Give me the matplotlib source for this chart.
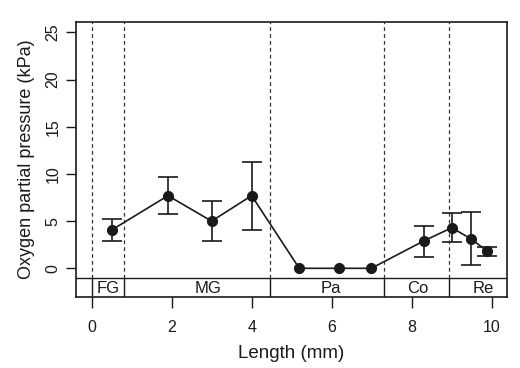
import matplotlib
matplotlib.use("Agg")
import matplotlib.pyplot as plt

# Measured positions along gut (mm) and O2 partial pressure (kPa)
length_mm = [0.52, 1.91, 3.0, 4.0, 5.19, 6.19, 6.99, 8.3, 9.0, 9.49, 9.89]
pressure = [4.1, 7.7, 5.0, 7.7, 0.0, 0.0, 0.0, 2.9, 4.3, 3.1, 1.8]
err_low = [2.9, 5.75, 2.9, 4.1, 0.0, 0.0, 0.0, 1.2, 2.75, 0.35, 1.3]
err_high = [5.2, 9.7, 7.15, 11.25, 0.0, 0.0, 0.0, 4.5, 5.85, 5.95, 2.3]

# Compartment boundaries and labels
boundaries = [0.0, 0.82, 4.47, 7.31, 8.93]
segment_labels = ["FG", "MG", "Pa", "Co", "Re"]
label_pos = [0.42, 2.9, 5.98, 8.14, 9.79]

plt.rcParams["font.family"] = ["Liberation Sans", "DejaVu Sans"]
ink = "#1a1a1a"

fig = plt.figure(figsize=(5.2, 3.68), dpi=100)
ax = fig.add_axes([0.146, 0.194, 0.829, 0.746])

lower = [p - lo for p, lo in zip(pressure, err_low)]
upper = [hi - p for p, hi in zip(pressure, err_high)]
has_err = [hi > 0 for hi in err_high]
ex = [x for x, h in zip(length_mm, has_err) if h]
ey = [y for y, h in zip(pressure, has_err) if h]
el = [v for v, h in zip(lower, has_err) if h]
eu = [v for v, h in zip(upper, has_err) if h]
ax.errorbar(ex, ey, yerr=[el, eu], fmt="none", ecolor=ink, elinewidth=1.2,
            capsize=7.5, capthick=1.2, zorder=3)
ax.plot(length_mm, pressure, "-o", color=ink, lw=1.2, markersize=7, zorder=4)

ymin, ymax = -3.0, 26.1
strip_top = -1.0
for b in boundaries:
    ax.plot([b, b], [strip_top, ymax], ls=(0, (3, 2.5)), color="#333333", lw=0.9, zorder=1)
    ax.plot([b, b], [ymin, strip_top], color=ink, lw=1.0, zorder=2)
ax.axhline(strip_top, color=ink, lw=1.0)
for lab, xp in zip(segment_labels, label_pos):
    ax.text(xp, (ymin + strip_top) / 2 - 0.1, lab, ha="center", va="center",
            fontsize=12, color=ink)

ax.set_xlim(-0.39, 10.38)
ax.set_ylim(ymin, ymax)
ax.set_xticks([0, 2, 4, 6, 8, 10])
ax.set_yticks([0, 5, 10, 15, 20, 25])
ax.tick_params(axis="x", length=8, width=1, color=ink, labelsize=11.5, pad=9, labelcolor=ink)
ax.tick_params(axis="y", length=7, width=1, color=ink, labelsize=11.5, pad=4, labelcolor=ink)
for lab in ax.get_yticklabels():
    lab.set_rotation(90)
    lab.set_va("center")
for s in ax.spines.values():
    s.set_color(ink)
    s.set_linewidth(1.2)

ax.set_xlabel("Length (mm)", fontsize=13.5, color=ink, labelpad=7)
ax.set_ylabel("Oxygen partial pressure (kPa)", fontsize=13, color=ink, labelpad=8)

fig.savefig("out.png", dpi=100)
